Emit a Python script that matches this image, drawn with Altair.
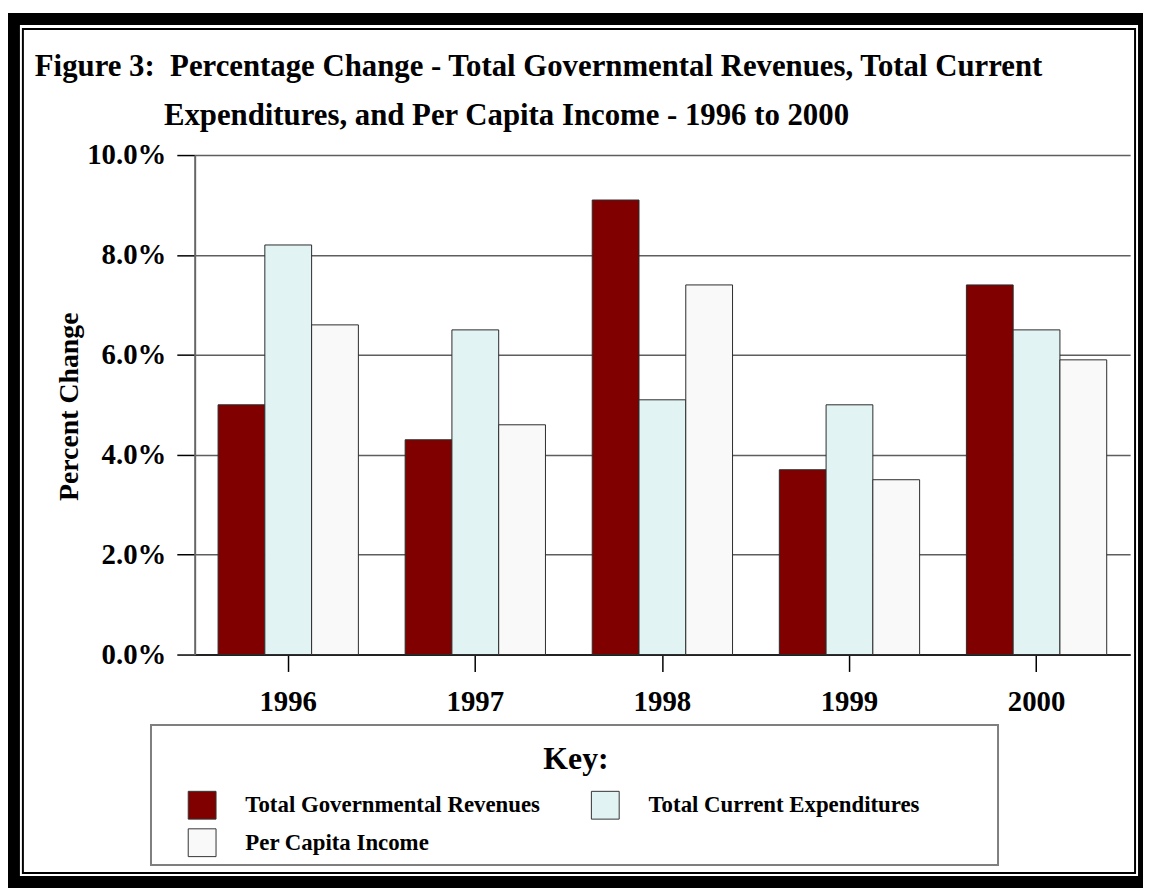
import altair as alt
import pandas as pd

# ---- data ----
years = ["1996", "1997", "1998", "1999", "2000"]
series = ["Total Governmental Revenues", "Total Current Expenditures", "Per Capita Income"]
revenues = [5.0, 4.3, 9.1, 3.7, 7.4]
expenditures = [8.2, 6.5, 5.1, 5.0, 6.5]
income = [6.6, 4.6, 7.4, 3.5, 5.9]
colors = ["#800000", "#e2f3f3", "#f9f9f9"]
y_ticks = [0.0, 0.02, 0.04, 0.06, 0.08, 0.10]
title_line1 = "Figure 3:\u00a0 Percentage Change - Total Governmental Revenues, Total Current"
title_line2 = "Expenditures, and Per Capita Income - 1996 to 2000"
y_title = "Percent Change"
key_title = "Key:"

rows = []
for name, vals in zip(series, [revenues, expenditures, income]):
    for yr, v in zip(years, vals):
        rows.append({"year": yr, "series": name, "value": v / 100.0})
df = pd.DataFrame(rows)

FONT = "Liberation Serif"
one = pd.DataFrame({"k": [0]})

bars = alt.Chart(df).mark_bar(stroke="#2b2b2b", strokeWidth=1).encode(
    x=alt.X(
        "year:N", sort=years,
        scale=alt.Scale(paddingInner=0.25, paddingOuter=0.125),
        axis=alt.Axis(
            title=None, labelAngle=0, labelFont=FONT, labelFontSize=29,
            labelFontWeight="bold", labelColor="black", labelPadding=16,
            tickSize=17, tickColor="black", tickWidth=1.5,
            domainColor="#222222", domainWidth=2, grid=False,
        ),
    ),
    xOffset=alt.XOffset("series:N", sort=series,
                        scale=alt.Scale(paddingInner=0, paddingOuter=0)),
    y=alt.Y(
        "value:Q",
        scale=alt.Scale(domain=[0, 0.1], nice=False),
        axis=alt.Axis(
            values=y_ticks, format=".1%", title=y_title,
            titleFont=FONT, titleFontSize=28, titleFontWeight="bold", titleColor="black",
            titleX=-126, titleY=253, titleAngle=270, titleAlign="center",
            titleBaseline="middle",
            labelFont=FONT, labelFontSize=29, labelFontWeight="bold",
            labelColor="black", labelPadding=11,
            tickSize=18, tickColor="black", tickWidth=1.5,
            domainColor="#666666", domainWidth=2,
            gridColor="#5e5e5e", gridWidth=1.5,
        ),
    ),
    color=alt.Color(
        "series:N", sort=series,
        scale=alt.Scale(domain=series, range=colors),
        legend=alt.Legend(
            title=None, orient="none", legendX=-7, legendY=640,
            direction="horizontal", columns=2, columnPadding=49, rowPadding=5,
            symbolType="square", symbolSize=784, symbolStrokeColor="#333333",
            symbolStrokeWidth=1, labelFont=FONT, labelFontSize=23,
            labelFontWeight="bold", labelColor="black", labelOffset=29,
            labelLimit=500, padding=0,
        ),
    ),
)

frame_thick = alt.Chart(one).mark_rect(fill="transparent", stroke="black", strokeWidth=12).encode(
    x=alt.value(-182), x2=alt.value(956), y=alt.value(-137), y2=alt.value(732))
frame_thin = alt.Chart(one).mark_rect(fill="transparent", stroke="black", strokeWidth=2).encode(
    x=alt.value(-173), x2=alt.value(947), y=alt.value(-127), y2=alt.value(723))
legend_box = alt.Chart(one).mark_rect(fill="transparent", stroke="#7f7f7f", strokeWidth=2).encode(
    x=alt.value(-44), x2=alt.value(809), y=alt.value(574), y2=alt.value(715))

def text_layer(txt, x, y, size, align):
    return alt.Chart(pd.DataFrame({"t": [txt]})).mark_text(
        align=align, baseline="alphabetic", font=FONT, fontSize=size,
        fontWeight="bold", color="black",
    ).encode(text="t:N", x=alt.value(x), y=alt.value(y))

t1 = text_layer(title_line1, -161, -80, 31, "left")
t2 = text_layer(title_line2, -31, -30, 31, "left")
key = text_layer(key_title, 384, 618, 32, "center")

chart = alt.layer(frame_thick, frame_thin, legend_box, bars, t1, t2, key).properties(
    width=942, height=503,
    padding={"left": 188, "top": 145, "right": 13, "bottom": 232},
    autosize=alt.AutoSizeParams(type="none"),
    background="white",
).configure_view(stroke="transparent")

chart.save("out.html", embed_options={"renderer": "svg", "actions": False})
